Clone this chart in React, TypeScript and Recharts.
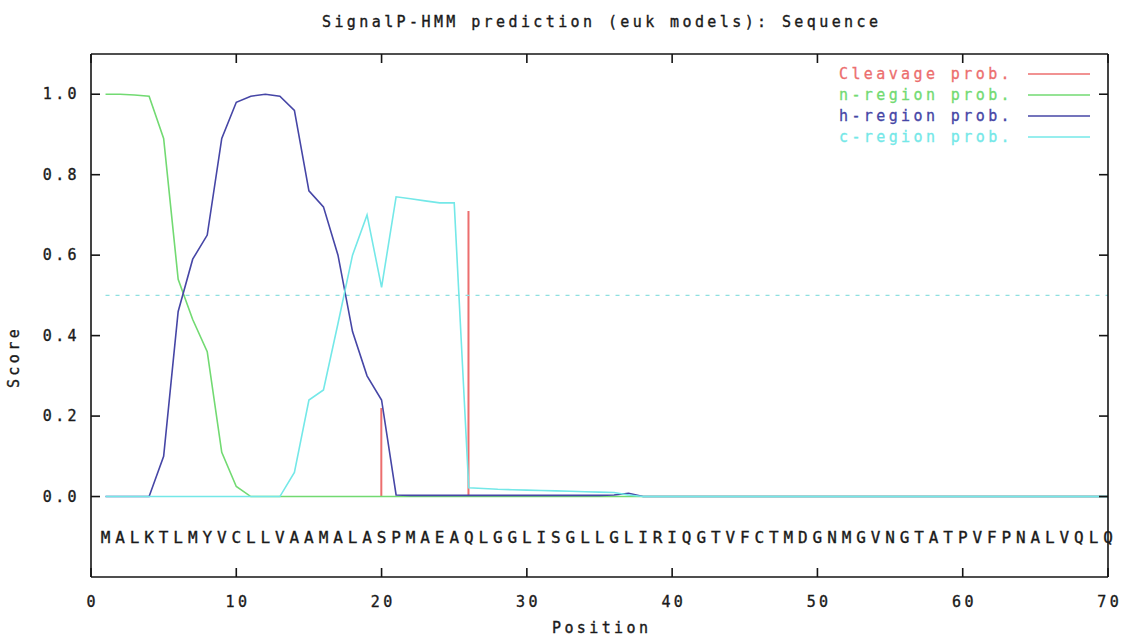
import React from 'react';
import {
  ComposedChart,
  Line,
  Bar,
  Scatter,
  XAxis,
  YAxis,
  ReferenceLine,
  Legend,
  Label,
} from 'recharts';

// ---------------- data ----------------
const sequence = 'MALKTLMYVCLLVAAMALASPMAEAQLGGLISGLLGLIRIQGTVFCTMDGNMGVNGTATPVFPNALVQLQ';

const cleavageProb = [
  0, 0, 0, 0, 0, 0, 0, 0, 0, 0,
  0, 0, 0, 0, 0, 0, 0, 0, 0, 0.22,
  0, 0, 0, 0, 0, 0.71, 0, 0, 0, 0,
  0, 0, 0, 0, 0, 0, 0, 0, 0, 0,
  0, 0, 0, 0, 0, 0, 0, 0, 0, 0,
  0, 0, 0, 0, 0, 0, 0, 0, 0, 0,
  0, 0, 0, 0, 0, 0, 0, 0, 0, 0,
];

const nRegionProb = [
  1.0, 1.0, 0.998, 0.995, 0.89, 0.54, 0.44, 0.36, 0.11, 0.025,
  0, 0, 0, 0, 0, 0, 0, 0, 0, 0,
  0, 0, 0, 0, 0, 0, 0, 0, 0, 0,
  0, 0, 0, 0, 0, 0, 0, 0, 0, 0,
  0, 0, 0, 0, 0, 0, 0, 0, 0, 0,
  0, 0, 0, 0, 0, 0, 0, 0, 0, 0,
  0, 0, 0, 0, 0, 0, 0, 0, 0, 0,
];

const hRegionProb = [
  0, 0, 0, 0, 0.1, 0.46, 0.59, 0.65, 0.89, 0.98,
  0.995, 1.0, 0.995, 0.96, 0.76, 0.72, 0.6, 0.41, 0.3, 0.24,
  0.004, 0.003, 0.003, 0.003, 0.003, 0.003, 0.003, 0.003, 0.003, 0.003,
  0.003, 0.003, 0.003, 0.003, 0.003, 0.004, 0.008, 0, 0, 0,
  0, 0, 0, 0, 0, 0, 0, 0, 0, 0,
  0, 0, 0, 0, 0, 0, 0, 0, 0, 0,
  0, 0, 0, 0, 0, 0, 0, 0, 0, 0,
];

const cRegionProb = [
  0, 0, 0, 0, 0, 0, 0, 0, 0, 0,
  0, 0, 0, 0.06, 0.24, 0.265, 0.43, 0.6, 0.7, 0.52,
  0.745, 0.74, 0.735, 0.73, 0.73, 0.022, 0.02, 0.018, 0.017, 0.016,
  0.015, 0.014, 0.013, 0.012, 0.011, 0.01, 0.004, 0, 0, 0,
  0, 0, 0, 0, 0, 0, 0, 0, 0, 0,
  0, 0, 0, 0, 0, 0, 0, 0, 0, 0,
  0, 0, 0, 0, 0, 0, 0, 0, 0, 0,
];

const xTicks = [0, 10, 20, 30, 40, 50, 60, 70];
const yTicks = [0, 0.2, 0.4, 0.6, 0.8, 1.0];

const titleText = 'SignalP-HMM prediction (euk models): Sequence';
const xLabelText = 'Position';
const yLabelText = 'Score';

// ---------------- styles ----------------
const FONT = '"DejaVu Sans Mono", "Liberation Mono", monospace';
const FONT_SIZE = 15;
const LETTER_SPACING = 3.4;
const TEXT_COLOR = '#1a1a1a';
const AXIS_COLOR = '#151515';
const TICK_LEN = 9;

const RED = '#ec6e6e';
const GREEN = '#72da72';
const BLUE = '#4646a6';
const CYAN = '#74e8e8';
const THRESH = '#8ee0e0';

const SEQ_Y = -0.1;

const seriesDefs = [
  { key: 'n', name: 'n-region prob.', color: GREEN },
  { key: 'h', name: 'h-region prob.', color: BLUE },
  { key: 'c', name: 'c-region prob.', color: CYAN },
];

const legendDefs = [
  { name: 'Cleavage prob.', color: RED },
  { name: 'n-region prob.', color: GREEN },
  { name: 'h-region prob.', color: BLUE },
  { name: 'c-region prob.', color: CYAN },
];

const letters = sequence.split('');
const chartData = letters.map((_, i) => ({
  pos: i + 1,
  cleavage: cleavageProb[i],
  n: nRegionProb[i],
  h: hRegionProb[i],
  c: cRegionProb[i],
}));
const seqData = letters.map((ch, i) => ({ pos: i + 1, seqY: SEQ_Y, letter: ch }));

const textProps = {
  fontFamily: FONT,
  fontSize: FONT_SIZE,
  fill: TEXT_COLOR,
  stroke: TEXT_COLOR,
  strokeWidth: 0.35,
  letterSpacing: LETTER_SPACING,
};

// ---------------- tick renderers ----------------
const BottomTick = (props: any) => {
  const { x, y, payload } = props;
  return (
    <g>
      <line x1={x} y1={y} x2={x} y2={y - TICK_LEN} stroke={AXIS_COLOR} strokeWidth={1.6} />
      <text x={x + LETTER_SPACING / 2} y={y + 30} textAnchor="middle" {...textProps}>
        {payload.value}
      </text>
    </g>
  );
};

const TopTick = (props: any) => {
  const { x, y } = props;
  return <line x1={x} y1={y} x2={x} y2={y + TICK_LEN} stroke={AXIS_COLOR} strokeWidth={1.6} />;
};

const LeftTick = (props: any) => {
  const { x, y, payload } = props;
  return (
    <g>
      <line x1={x} y1={y} x2={x + TICK_LEN} y2={y} stroke={AXIS_COLOR} strokeWidth={1.6} />
      <text x={80} y={y + 5} textAnchor="end" {...textProps}>
        {Number(payload.value).toFixed(1)}
      </text>
    </g>
  );
};

const RightTick = (props: any) => {
  const { x, y } = props;
  return <line x1={x} y1={y} x2={x - TICK_LEN} y2={y} stroke={AXIS_COLOR} strokeWidth={1.6} />;
};

const SeqLetter = (props: any) => {
  const { cx, cy, payload } = props;
  return (
    <text
      x={cx}
      y={cy + 6}
      textAnchor="middle"
      fontFamily={FONT}
      fontSize={16}
      fill={TEXT_COLOR}
      stroke={TEXT_COLOR}
      strokeWidth={0.35}
    >
      {payload.letter}
    </text>
  );
};

const LegendContent = () => (
  <svg width={300} height={90}>
    {legendDefs.map((d, i) => {
      const cy = 11 + i * 21;
      return (
        <g key={d.name}>
          <text
            x={217}
            y={cy + 5}
            textAnchor="end"
            fontFamily={FONT}
            fontSize={FONT_SIZE}
            letterSpacing={LETTER_SPACING}
            fill={d.color}
            stroke={d.color}
            strokeWidth={0.3}
          >
            {d.name}
          </text>
          <line x1={232} y1={cy} x2={294} y2={cy} stroke={d.color} strokeWidth={1.6} />
        </g>
      );
    })}
  </svg>
);

export default function App() {
  return (
    <div style={{ position: 'absolute', left: 0, top: 0, width: 1129, height: 639, background: '#fff' }}>
      <ComposedChart
        width={1129}
        height={639}
        data={chartData}
        margin={{ top: 53, right: 20, bottom: 0, left: 0 }}
      >
        <XAxis
          dataKey="pos"
          type="number"
          domain={[0, 70]}
          ticks={xTicks}
          height={62}
          tickSize={0}
          tickMargin={0}
          tickLine={false}
          tick={<BottomTick />}
          axisLine={{ stroke: AXIS_COLOR, strokeWidth: 1.6 }}
          interval={0}
        >
          <Label
            content={() => (
              <text x={600 + LETTER_SPACING / 2} y={633} textAnchor="middle" {...textProps}>
                {xLabelText}
              </text>
            )}
          />
        </XAxis>
        <XAxis
          xAxisId="top"
          orientation="top"
          dataKey="pos"
          type="number"
          domain={[0, 70]}
          ticks={xTicks}
          height={1}
          tickSize={0}
          tickMargin={0}
          tickLine={false}
          tick={<TopTick />}
          axisLine={{ stroke: AXIS_COLOR, strokeWidth: 1.6 }}
          interval={0}
        />
        <YAxis
          type="number"
          domain={[-0.2, 1.1]}
          ticks={yTicks}
          width={91}
          tickSize={0}
          tickMargin={0}
          tickLine={false}
          tick={<LeftTick />}
          axisLine={{ stroke: AXIS_COLOR, strokeWidth: 1.6 }}
          interval={0}
        >
          <Label
            content={() => (
              <g>
                <text
                  x={19}
                  y={357}
                  textAnchor="middle"
                  transform="rotate(-90 19 357)"
                  {...textProps}
                >
                  {yLabelText}
                </text>
                <text x={600 + LETTER_SPACING / 2} y={27} textAnchor="middle" {...textProps}>
                  {titleText}
                </text>
              </g>
            )}
          />
        </YAxis>
        <YAxis
          yAxisId="right"
          orientation="right"
          type="number"
          domain={[-0.2, 1.1]}
          ticks={yTicks}
          width={1}
          tickSize={0}
          tickMargin={0}
          tickLine={false}
          tick={<RightTick />}
          axisLine={{ stroke: AXIS_COLOR, strokeWidth: 1.6 }}
          interval={0}
        />
        <ReferenceLine
          segment={[
            { x: 1, y: 0.5 },
            { x: 70, y: 0.5 },
          ]}
          stroke={THRESH}
          strokeWidth={1.4}
          strokeDasharray="4 6"
        />
        <Bar dataKey="cleavage" fill={RED} barSize={2} isAnimationActive={false} />
        {seriesDefs.map((s) => (
          <Line
            key={s.key}
            type="linear"
            dataKey={s.key}
            name={s.name}
            stroke={s.color}
            strokeWidth={1.6}
            dot={false}
            activeDot={false}
            isAnimationActive={false}
          />
        ))}
        <Line
          xAxisId="top"
          yAxisId="right"
          dataKey="c"
          stroke="none"
          dot={false}
          activeDot={false}
          legendType="none"
          isAnimationActive={false}
        />
        <Scatter data={seqData} dataKey="seqY" shape={<SeqLetter />} isAnimationActive={false} />
        <Legend
          layout="horizontal"
          verticalAlign="middle"
          align="center"
          content={<LegendContent />}
          wrapperStyle={{ position: 'absolute', left: 796, top: 63, width: 300, height: 90 }}
        />
      </ComposedChart>
    </div>
  );
}
